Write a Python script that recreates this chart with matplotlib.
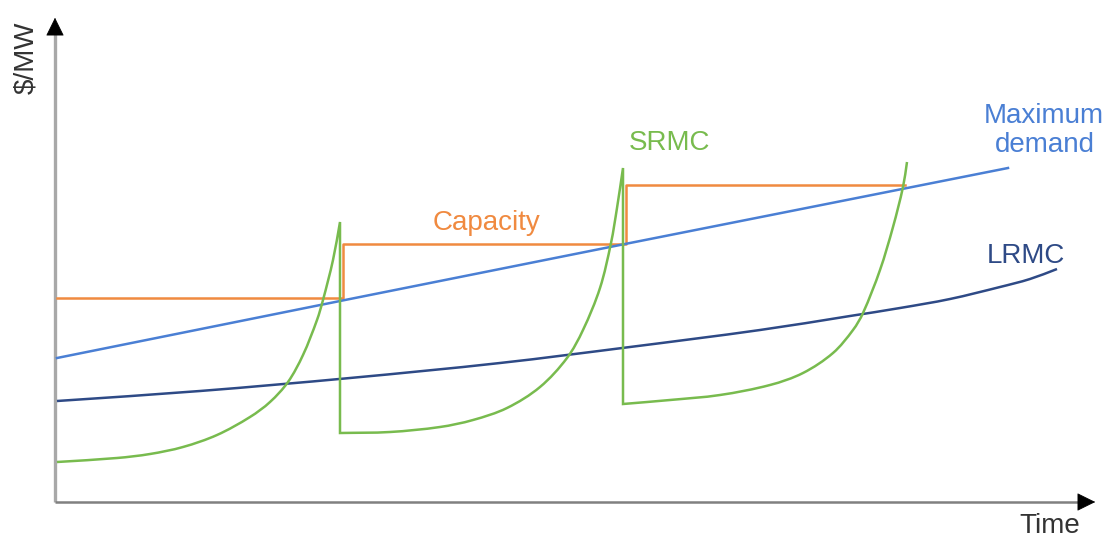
import matplotlib.pyplot as plt
from matplotlib.path import Path
from matplotlib.patches import PathPatch
import numpy as np

plt.rcParams['font.family'] = ['Liberation Sans', 'DejaVu Sans']

# SRMC: three cycles, each rising until new capacity is added, then dropping
srmc_t1 = [0, 6.0, 9.3, 12.6, 16.0, 19.3, 21.3, 23.1, 24.6, 26.0, 26.6, 27.6, 28.3]
srmc_v1 = [8.0, 8.8, 9.6, 11.0, 13.4, 17.0, 20.0, 24.0, 29.4, 36.4, 40.4, 48.4, 56.0]
srmc_t2 = [28.3, 33.3, 38.3, 41.6, 45.0, 48.3, 51.0, 52.6, 54.3, 55.4, 56.0, 56.6]
srmc_v2 = [13.8, 14.0, 15.0, 16.4, 18.8, 23.0, 28.8, 34.4, 42.8, 51.8, 58.8, 66.8]
srmc_t3 = [56.6, 61.3, 66.3, 71.3, 74.6, 77.6, 79.6, 80.6, 82.3, 83.6, 84.6, 85.0]
srmc_v3 = [19.6, 20.4, 21.4, 23.4, 25.8, 29.8, 34.4, 37.8, 46.4, 55.0, 63.0, 68.0]

# Capacity steps
cap_t = [0, 28.6, 56.9, 84.8]
cap_v = [40.8, 51.6, 63.4, 63.4]

# Maximum demand
dem_t = [0, 29.3, 57.3, 95.1]
dem_v = [28.8, 40.6, 51.8, 66.8]

# LRMC
lrmc_t = [0, 14.3, 29.3, 44.3, 57.3, 70.3, 79.3, 84.3, 89.3, 94.3, 97.3, 100.0]
lrmc_v = [20.2, 22.2, 24.8, 27.8, 31.0, 34.4, 37.2, 38.8, 40.6, 43.0, 44.6, 46.6]

c_green = '#78bb4e'
c_orange = '#f08a40'
c_blue = '#4a7fd4'
c_navy = '#2e4a86'


def smooth_path(ax, segments):
    # smooth curve through the points of each segment (worked out in screen
    # space so both axes count the same), straight line between segments
    tr = ax.transData
    inv = tr.inverted()
    verts, codes = [], []
    for t, v in segments:
        p = tr.transform(np.column_stack([t, v]))
        d = np.hypot(*np.diff(p, axis=0).T)
        n = len(p)
        m = np.zeros_like(p)
        m[0] = (p[1] - p[0]) / d[0]
        m[-1] = (p[-1] - p[-2]) / d[-1]
        for i in range(1, n - 1):
            m[i] = (p[i + 1] - p[i - 1]) / (d[i - 1] + d[i])
        verts.append(p[0])
        codes.append(Path.MOVETO if not codes else Path.LINETO)
        for i in range(n - 1):
            verts += [p[i] + m[i] * d[i] / 3, p[i + 1] - m[i + 1] * d[i] / 3, p[i + 1]]
            codes += [Path.CURVE4] * 3
    return Path(inv.transform(np.array(verts)), codes)


fig = plt.figure(figsize=(11.1, 5.39), dpi=100)
ax = fig.add_axes([0, 0, 1, 1])
ax.set_xlim(-5.7, 105.3)
ax.set_ylim(-7.4, 100.4)
ax.axis('off')

# axes with arrows
ax.plot([-0.2, -0.2], [0, 94], color='#a8a8a8', lw=2.4, solid_capstyle='butt', zorder=1)
ax.plot([-0.2, 103], [0, 0], color='#808080', lw=1.8, solid_capstyle='butt', zorder=1)
ax.annotate('', xy=(-0.2, 97.4), xytext=(-0.2, 93.5),
            arrowprops=dict(arrowstyle='-|>,head_length=0.85,head_width=0.42',
                            color='black', mutation_scale=14, lw=0.5))
ax.annotate('', xy=(104.1, 0), xytext=(102.2, 0),
            arrowprops=dict(arrowstyle='-|>,head_length=0.85,head_width=0.42',
                            color='black', mutation_scale=14, lw=0.5))

ax.step(cap_t, cap_v, where='post', color=c_orange, lw=1.8, zorder=2)
ax.plot(dem_t, dem_v, color=c_blue, lw=1.8, zorder=3)
ax.add_patch(PathPatch(smooth_path(ax, [(lrmc_t, lrmc_v)]), fc='none', ec=c_navy, lw=1.8, zorder=3))

srmc = smooth_path(ax, [(srmc_t1, srmc_v1), (srmc_t2, srmc_v2), (srmc_t3, srmc_v3)])
ax.add_patch(PathPatch(srmc, fc='none', ec=c_green, lw=1.8, zorder=4))

fs = 20
ax.text(98.7, 75.8, 'Maximum', color=c_blue, fontsize=fs, ha='center', va='baseline')
ax.text(98.8, 70.0, 'demand', color=c_blue, fontsize=fs, ha='center', va='baseline')
ax.text(43.0, 54.4, 'Capacity', color=c_orange, fontsize=fs, ha='center', va='baseline')
ax.text(61.3, 70.4, 'SRMC', color=c_green, fontsize=fs, ha='center', va='baseline')
ax.text(96.9, 47.8, 'LRMC', color=c_navy, fontsize=fs, ha='center', va='baseline')
ax.text(99.3, -6.2, 'Time', color='#333333', fontsize=fs, ha='center', va='baseline')
ax.text(-3.1, 88.8, '$/MW', color='#333333', fontsize=fs, ha='center', va='center', rotation=90)

fig.savefig('out.png', dpi=100)
